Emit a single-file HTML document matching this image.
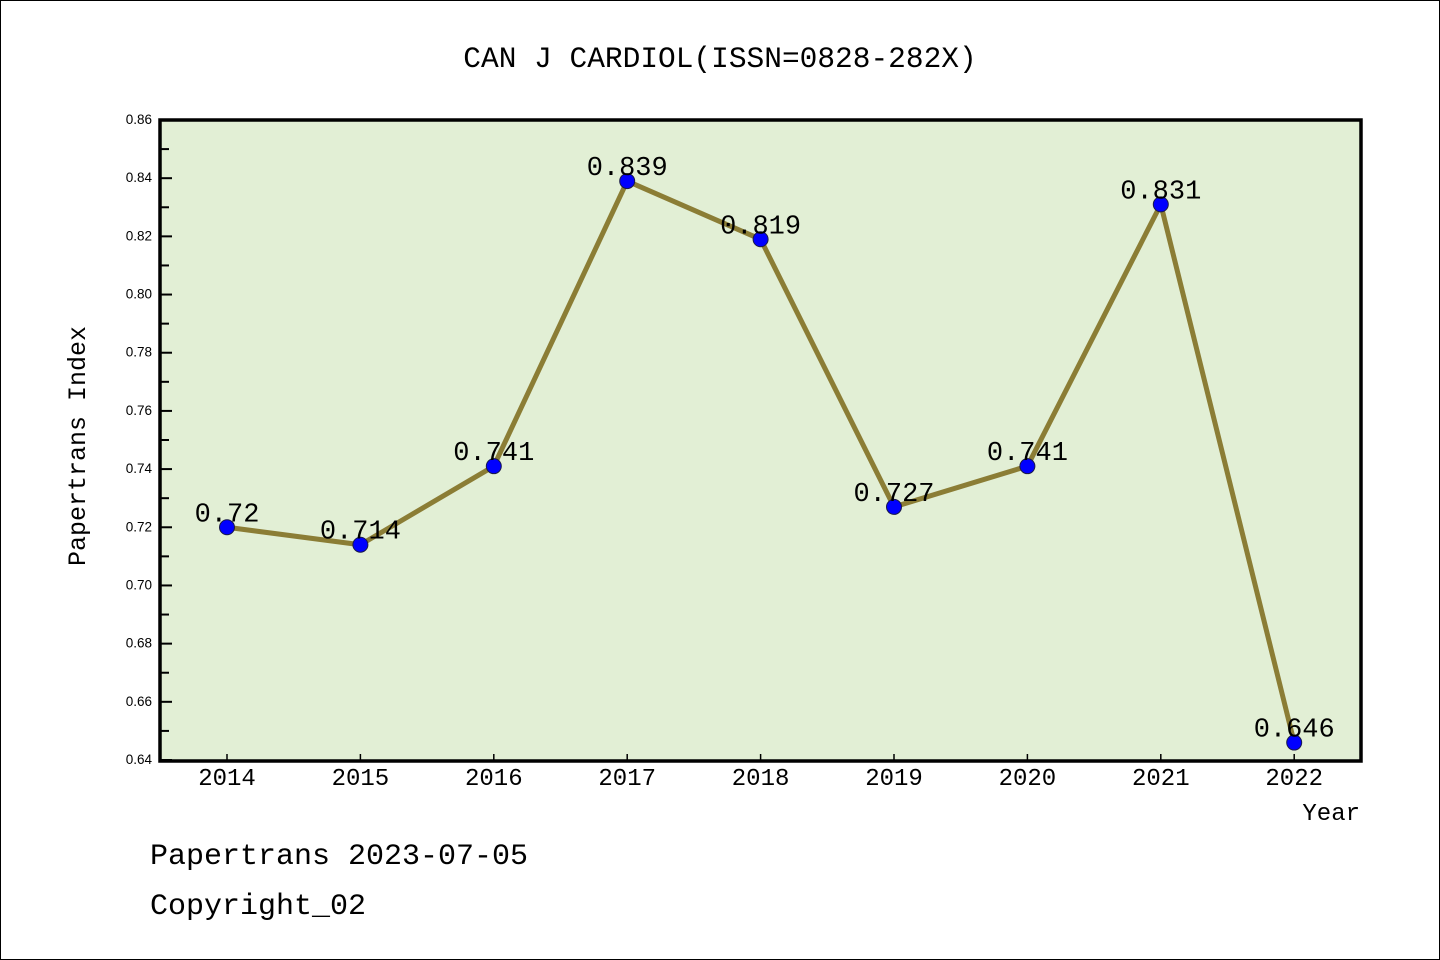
<!DOCTYPE html>
<html><head><meta charset="utf-8"><style>
html,body{margin:0;padding:0;background:#fff}
svg{display:block}
text{font-family:"Liberation Mono",monospace}
text.tl{font-family:"Liberation Sans",sans-serif}
</style></head><body>
<svg id="c" width="1440" height="960">
<rect x="0.5" y="0.5" width="1439" height="959" fill="#fff" stroke="#000"/>
<text x="720" y="67" font-size="29.5" text-anchor="middle">CAN J CARDIOL(ISSN=0828-282X)</text>
<rect x="160" y="120" width="1201" height="641" fill="#e2efd5" stroke="#000" stroke-width="3.5"/>
<g id="axes"></g>
<g id="series"></g>
<text transform="translate(85,446) rotate(-90)" font-size="25" text-anchor="middle">Papertrans Index</text>
<text x="1360" y="820" font-size="24" text-anchor="end">Year</text>
<text x="150" y="864" font-size="30">Papertrans 2023-07-05</text>
<text x="150" y="914" font-size="30">Copyright_02</text>
</svg>
<script>
const years=["2014","2015","2016","2017","2018","2019","2020","2021","2022"];
const values=[0.72,0.714,0.741,0.839,0.819,0.727,0.741,0.831,0.646];
const valueLabels=["0.72","0.714","0.741","0.839","0.819","0.727","0.741","0.831","0.646"];
const yTicks=[0.64,0.66,0.68,0.70,0.72,0.74,0.76,0.78,0.80,0.82,0.84,0.86];
const NS="http://www.w3.org/2000/svg";
const yMin=0.64,yMax=0.86,plotTop=120,plotBot=760;
const yScale=v=>plotBot-(v-yMin)/(yMax-yMin)*(plotBot-plotTop);
const xScale=i=>227+i*133.4;
function mk(tag,attrs,parent,txt){const e=document.createElementNS(NS,tag);for(const k in attrs)e.setAttribute(k,attrs[k]);if(txt!=null)e.textContent=txt;parent.appendChild(e);return e;}
const ax=document.getElementById('axes'),se=document.getElementById('series');
yTicks.forEach((t,i)=>{
 const yy=yScale(t);
 const tk=mk('line',{x1:160,x2:172,y1:yy,y2:yy,stroke:'#000','stroke-width':2},ax);
 
 
 const lb=mk('text',{x:152,y:yy+4,'font-size':13.5,'text-anchor':'end','class':'tl'},ax,t.toFixed(2));
 
 
 if(i<yTicks.length-1){const ym=yScale(t+0.01);
  const mt=mk('line',{x1:160,x2:169,y1:ym,y2:ym,stroke:'#000','stroke-width':2},ax);
  
  }
});
years.forEach((yr,i)=>{
 const tk=mk('line',{x1:xScale(i),x2:xScale(i),y1:760,y2:754,stroke:'#000','stroke-width':1.5},ax);
 
 
 const lb=mk('text',{x:xScale(i),y:785,'font-size':24,'text-anchor':'middle'},ax,yr);
 
 
});
const pts=values.map((v,i)=>xScale(i)+','+yScale(v)).join(' ');
const ln=mk('polyline',{points:pts,fill:'none',stroke:'#8b7d35','stroke-width':5,'stroke-linejoin':'round'},se);


values.forEach((v,i)=>{
 const c=mk('circle',{cx:xScale(i),cy:yScale(v),r:7.5,fill:'#0000ff',stroke:'#1a1a4a','stroke-width':1},se);
 
 
 const t=mk('text',{x:xScale(i),y:yScale(v)-6,'font-size':27,'text-anchor':'middle'},se,valueLabels[i]);
 
 
});
</script>
</body></html>
